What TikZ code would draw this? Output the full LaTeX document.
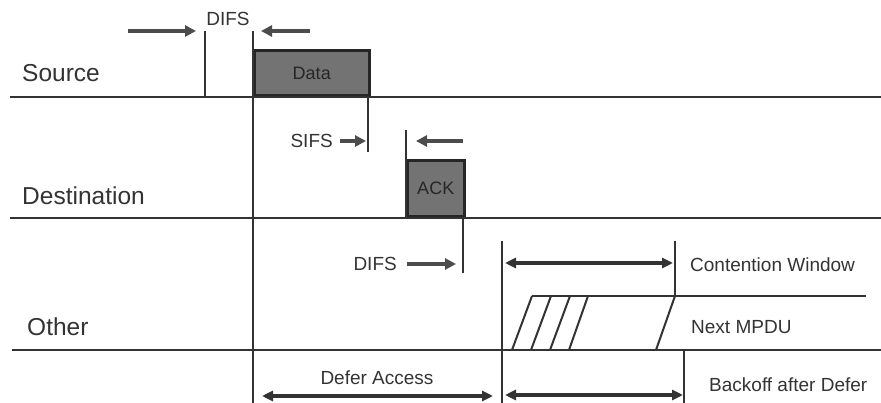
\documentclass[tikz,border=0pt]{standalone}
\usepackage{fontspec}
\setmainfont{Liberation Sans}
\usetikzlibrary{arrows.meta}
\begin{document}
\begin{tikzpicture}[x=1pt,y=-1pt,
  tl/.style={line width=2.5pt, draw=black!80},
  hatchline/.style={line width=2pt, draw=black!80},
  arr/.style={line width=3.6pt, draw=black!70, -{Triangle[length=11pt,width=11pt]}},
  darr/.style={line width=3.3pt, draw=black!80, {Triangle[length=11pt,width=10pt]}-{Triangle[length=11pt,width=10pt]}},
  big/.style={font=\fontsize{24.5}{26}\selectfont, text=black!80, inner sep=0pt},
  small/.style={font=\fontsize{19}{21}\selectfont, text=black!80, inner sep=0pt},
  boxtext/.style={font=\fontsize{18}{20}\selectfont, text=black!85},
  frame/.style={draw=black!85, line width=2.5pt, fill=black!55, inner sep=0pt}]
\useasboundingbox (0,0) rectangle (881,403);
% lane labels
\node[big, anchor=west] (src) at (22,73) {Source};
\node[big, anchor=west] (dst) at (22,196) {Destination};
\node[big, anchor=west] (oth) at (27,327) {Other};
% coordinates of lanes
\coordinate (sA) at (10,97);  \coordinate (sB) at (881,97);
\coordinate (dA) at (10,218); \coordinate (dB) at (881,218);
\coordinate (oA) at (12,350); \coordinate (oB) at (881,350);
\coordinate (nA) at (532,296); \coordinate (nB) at (866,296);
% boxes
\node[frame, boxtext, anchor=south west, minimum width=115pt, minimum height=45pt] (data) at (253,97) {Data};
\node[frame, boxtext, anchor=south west, minimum width=57pt, minimum height=56pt] (ack) at (406,218) {ACK};
% lanes
\draw[tl] (sA) -- (sB);
\draw[tl] (dA) -- (dB);
\draw[tl] (oA) -- (oB);
\draw[tl] (nA) -- (nB);
% vertical markers
\coordinate (v1t) at (205,31);  \coordinate (v1b) at (205,97);
\coordinate (v2t) at (253,31);  \coordinate (v2b) at (253,403);
\coordinate (v3t) at (368,97);  \coordinate (v3b) at (368,152);
\coordinate (v4t) at (406,130); \coordinate (v4b) at (406,218);
\coordinate (v5t) at (463,218); \coordinate (v5b) at (463,273);
\coordinate (v6t) at (502,241); \coordinate (v6b) at (502,403);
\coordinate (v7t) at (675,241); \coordinate (v7b) at (675,296);
\coordinate (v8t) at (684,350); \coordinate (v8b) at (684,403);
\draw[tl] (v1t) -- (v1b);
\draw[tl] (v2t) -- (v2b);
\draw[tl] (v3t) -- (v3b);
\draw[tl] (v4t) -- (v4b);
\draw[tl] (v5t) -- (v5b);
\draw[tl] (v6t) -- (v6b);
\draw[tl] (v7t) -- (v7b);
\draw[tl] (v8t) -- (v8b);
% hatch of next MPDU
\coordinate (h1a) at (512,350); \coordinate (h1b) at (532,296);
\coordinate (h2a) at (531,350); \coordinate (h2b) at (551,296);
\coordinate (h3a) at (550,350); \coordinate (h3b) at (570,296);
\coordinate (h4a) at (569,350); \coordinate (h4b) at (588,296);
\coordinate (h5a) at (656,350); \coordinate (h5b) at (675,296);
\draw[hatchline] (h1a) -- (h1b);
\draw[hatchline] (h2a) -- (h2b);
\draw[hatchline] (h3a) -- (h3b);
\draw[hatchline] (h4a) -- (h4b);
\draw[hatchline] (h5a) -- (h5b);
% labels
\node[small] (difs1) at (228,19) {DIFS};
\node[small, anchor=east] (sifs) at (333,141) {SIFS};
\node[small, anchor=east] (difs2) at (397,264) {DIFS};
\node[small, anchor=west] (cw) at (690,265) {Contention Window};
\node[small, anchor=west] (mpdu) at (691,327) {Next MPDU};
\node[small, anchor=west] (boff) at (709,385) {Backoff after Defer};
\node[small] (defer) at (377,378) {Defer Access};
% single arrows
\coordinate (a1s) at (128,31); \coordinate (a1e) at (196,31);
\coordinate (a2s) at (310,31); \coordinate (a2e) at (261,31);
\coordinate (a3s) at (340,141); \coordinate (a3e) at (366,141);
\coordinate (a4s) at (463,141); \coordinate (a4e) at (416,141);
\coordinate (a5s) at (407,264); \coordinate (a5e) at (456,264);
\draw[arr] (a1s) -- (a1e);
\draw[arr] (a2s) -- (a2e);
\draw[arr] (a3s) -- (a3e);
\draw[arr] (a4s) -- (a4e);
\draw[arr] (a5s) -- (a5e);
% double arrows
\coordinate (cwL) at (505,263); \coordinate (cwR) at (673,263);
\coordinate (dfL) at (262,396); \coordinate (dfR) at (493,396);
\coordinate (boL) at (505,395); \coordinate (boR) at (683,395);
\draw[darr] (cwL) -- (cwR);
\draw[darr] (dfL) -- (dfR);
\draw[darr] (boL) -- (boR);
\end{tikzpicture}
\end{document}
